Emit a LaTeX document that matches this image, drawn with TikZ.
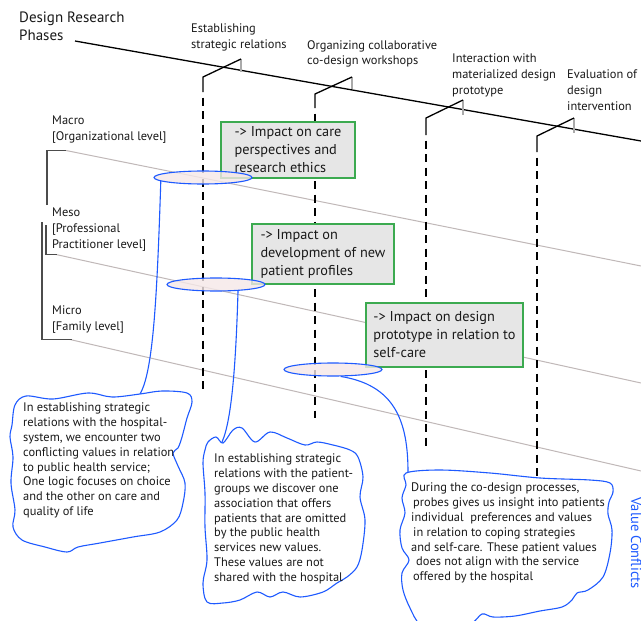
\documentclass[tikz,border=0pt]{standalone}
\usepackage{fontspec}
\setmainfont{PT Sans}
\usetikzlibrary{shapes.geometric}
\definecolor{cblue}{RGB}{30,90,255}
\definecolor{cgreen}{RGB}{60,170,80}
\definecolor{boxfill}{RGB}{230,230,230}
\definecolor{ellfill}{RGB}{245,232,232}
\definecolor{lvlgray}{RGB}{192,184,184}
\definecolor{tickgray}{RGB}{170,170,170}
\definecolor{txt}{RGB}{25,25,25}
\newcommand\ftitle{\fontsize{15}{18}\selectfont}
\newcommand\fphase{\fontsize{12.4}{15.8}\selectfont}
\newcommand\flevel{\fontsize{12.4}{16}\selectfont}
\newcommand\fimpact{\fontsize{14.3}{18}\selectfont}
\newcommand\fcloud{\fontsize{12.4}{14.8}\selectfont}
\newcommand\fvc{\fontsize{14.5}{16}\selectfont}
\begin{document}
\begin{tikzpicture}[x=1pt,y=-1pt,
  lbl/.style={anchor=north west,inner sep=0pt,align=left,text=txt},
  mainline/.style={black,line width=1.3pt},
  lvl/.style={lvlgray,line width=1pt},
  brk/.style={black!70,line width=1.1pt},
  tick/.style={tickgray,line width=1.2pt},
  phaseline/.style={black,line width=1.3pt},
  dashline/.style={black,line width=1.3pt,dash pattern=on 8pt off 5.5pt,dash phase=8pt},
  impact/.style={draw=cgreen,fill=boxfill,line width=1.2pt,align=left,inner sep=0pt,text=txt,font=\fimpact},
  ell/.style={ellipse,draw=cblue,fill=ellfill,fill opacity=0.8,line width=1.1pt,minimum width=98pt,minimum height=13pt,inner sep=0pt},
  conn/.style={cblue,line width=1.1pt},
  cloud/.style={draw=cblue,fill=white,line width=1.1pt}
]
\clip (0,0) rectangle (641,621);
\fill[white] (0,0) rectangle (641,621);

% level lines and brackets
\draw[lvl] (66,150.5) -- (641,266);
\draw[lvl] (56,254.5) -- (641,383);
\draw[lvl] (70,339.5) -- (641,471);
\draw[brk] (47,205) -- (47,150.5) -- (66,150.5);
\draw[brk] (46,225) -- (46,254.5) -- (57,254.5);
\draw[brk] (42,222) -- (42,339.5) -- (72,339.5);

% main phase line
\draw[mainline] (75,41) -- (641,141);

% phase markers
\draw[tick] (241,59) -- (241,72);
\draw[phaseline] (241,59) -- (203,77) -- (203,92);
\draw[dashline] (203,92) -- (203,393);
\draw[tick] (352,77) -- (352,89);
\draw[phaseline] (352,77) -- (315,94) -- (315,108);
\draw[dashline] (315,108) -- (315,418);
\draw[tick] (463,100) -- (463,115);
\draw[phaseline] (463,100) -- (426,118) -- (426,135);
\draw[dashline] (426,135) -- (426,447);
\draw[tick] (574,118) -- (574,133);
\draw[phaseline] (574,118) -- (537,136) -- (537,152);
\draw[dashline] (537,152) -- (537,480);

% texts
\node[lbl,font=\ftitle] (title) at (19,12) {Design Research\\Phases};
\node[lbl,font=\fphase] (p1) at (191,24) {Establishing\\strategic relations};
\node[lbl,font=\fphase] (p2) at (307,40) {Organizing collaborative\\co-design workshops};
\node[lbl,font=\fphase] (p3) at (452,54) {Interaction with\\materialized design\\prototype};
\node[lbl,font=\fphase] (p4) at (567,70) {Evaluation of\\design\\intervention};
\node[lbl,font=\flevel] (macro) at (52,116) {Macro\\{[}Organizational level{]}};
\node[lbl,font=\flevel] (meso) at (52,208) {Meso\\{[}Professional\\Practitioner level{]}};
\node[lbl,font=\flevel] (micro) at (52,306) {Micro\\{[}Family level{]}};

% impact boxes
\node[impact,minimum width=134pt,minimum height=56pt] (b1) at (288,150) {-> Impact on care\\perspectives and\\research ethics};
\node[impact,minimum width=142pt,minimum height=60pt] (b2) at (323,254) {-> Impact on\\development of new\\patient profiles};
\node[impact,minimum width=157pt,minimum height=64pt] (b3) at (444.5,335) {-> Impact on design\\prototype in relation to\\self-care};

% ellipses
\node[ell] (e1) at (203,177.5) {};
\node[ell] (e2) at (216,284.5) {};
\node[ell] (e3) at (333,369.5) {};

% connectors
\coordinate (c1) at (140,394);
\coordinate (c2) at (222,442);
\coordinate (c3) at (408,472);
\draw[conn] (e1.185) .. controls (157,300) and (153,372) .. (c1);
\draw[conn] (e2.-16) .. controls (236,360) and (232,420) .. (c2);
\draw[conn] (e3.-42) .. controls (394,385) and (408,420) .. (c3);

% clouds
\draw[cloud] plot[smooth cycle,tension=0.55] coordinates {
 (15,405) (26,396) (53,399) (88,393) (112,397) (140,394) (162,391) (187,393)
 (192,402) (187,418) (182,437) (178,448) (173,453) (178,466) (185,483) (183,503)
 (177,520) (160,532) (133,537) (100,543) (78,547) (67,552) (45,547) (22,540)
 (13,527) (15,510) (11,483) (13,457) (10,437) (12,425)};
\draw[cloud] plot[smooth cycle,tension=0.55] coordinates {
 (208,442) (216,437) (223,443) (233,430) (242,428) (255,442) (270,432) (287,438)
 (305,445) (317,442) (333,445) (350,450) (358,457) (363,477) (360,497) (365,520)
 (362,550) (357,567) (347,577) (337,583) (323,592) (300,597) (283,592) (270,597)
 (257,592) (240,600) (223,603) (207,602) (203,583) (207,560) (205,527) (205,493)
 (203,463) (205,450)};
\draw[cloud] plot[smooth cycle,tension=0.55] coordinates {
 (406,473) (440,470) (490,473) (540,478) (590,480) (610,483) (613,492) (609,502)
 (608,514) (612,530) (610,553) (603,577) (588,590) (577,593) (572,600) (562,607)
 (540,611) (515,616) (493,617) (482,614) (470,624) (440,628) (420,624) (410,608)
 (403,590) (402,573) (409,560) (402,548) (400,530) (405,513) (402,498) (406,485)};

\node[lbl,font=\fcloud] (t1) at (23,403) {In establishing strategic\\relations with the hospital-\\system, we encounter two\\conflicting values in relation\\to public health service;\\One logic focuses on choice\\and the other on care and\\quality of life};
\node[lbl,font=\fcloud] (t2) at (214,454) {In establishing strategic\\relations with the patient-\\groups we discover one\\association that offers\\patients that are omitted\\by the public health\\services new values.\\These values are not\\shared with the hospital};
\node[lbl,font=\fcloud] (t3) at (411,483) {During the co-design processes,\\\hspace*{2pt}probes gives us insight into patients\\individual\ \ preferences and values\\\hspace*{2pt}in relation to coping strategies\\and self-care. These patient values\\\hspace*{5pt}does not align with the service\\\hspace*{2pt}offered by the hospital};

\node[rotate=-90,anchor=base,inner sep=0pt,text=cblue,font=\fvc] (vc) at (631,543) {Value Conflicts};
\end{tikzpicture}
\end{document}
